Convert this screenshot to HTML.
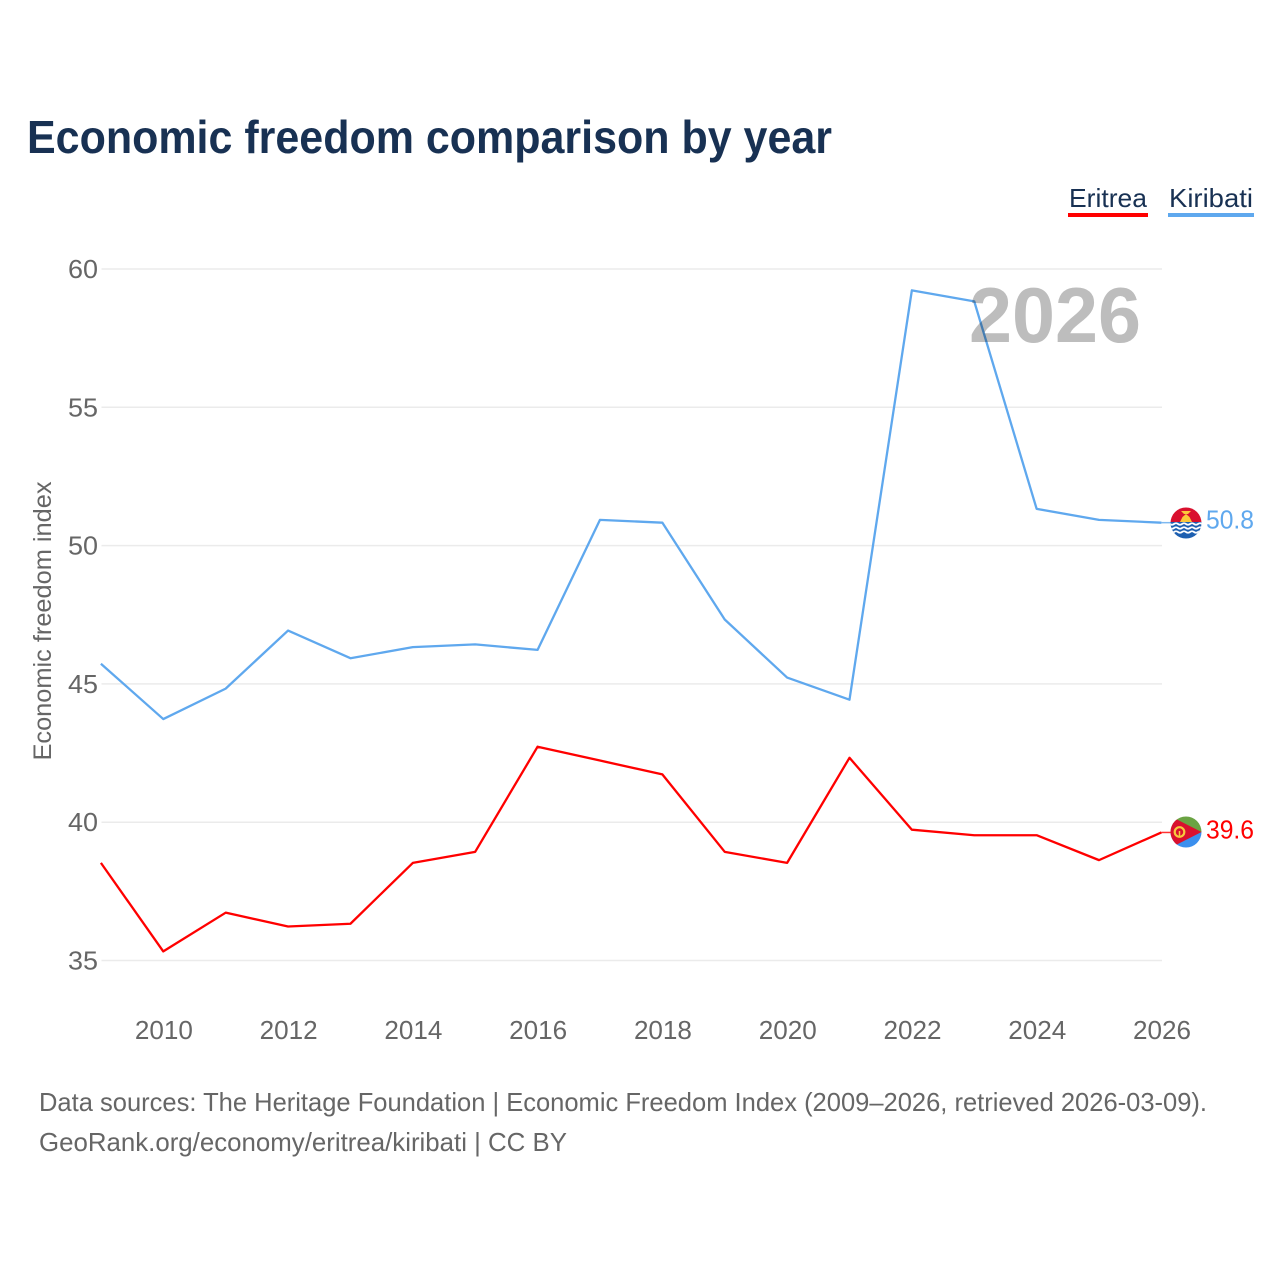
<!DOCTYPE html>
<html lang="en">
<head>
<meta charset="utf-8">
<title>Economic freedom comparison by year</title>
<style>
html,body{margin:0;padding:0;background:#fff;}
svg{display:block;font-family:"Liberation Sans",sans-serif;}
</style>
</head>
<body>
<svg id="chart" width="1280" height="1280" viewBox="0 0 1280 1280" xmlns="http://www.w3.org/2000/svg">
  <rect width="1280" height="1280" fill="#fff"/>
  <text x="27" y="153" font-size="46" font-weight="700" fill="#183153" textLength="805" lengthAdjust="spacingAndGlyphs">Economic freedom comparison by year</text>
  <g>
    <g>
      <text x="1069" y="207" font-size="26" fill="#183153" textLength="78" lengthAdjust="spacingAndGlyphs">Eritrea</text>
      <rect x="1068" y="213" width="80" height="4" fill="#ff0000"/>
    </g>
    <g>
      <text x="1169" y="207" font-size="26" fill="#183153" textLength="84" lengthAdjust="spacingAndGlyphs">Kiribati</text>
      <rect x="1168" y="213" width="86" height="4" fill="#5fa8ee"/>
    </g>
  </g>
  <g id="grid"></g>
  <g id="yticks"></g>
  <g id="xticks"></g>
  <text transform="translate(51,621) rotate(-90)" text-anchor="middle" font-size="25" fill="#666" textLength="279" lengthAdjust="spacingAndGlyphs">Economic freedom index</text>
  <g id="series"></g>
  <text x="969" y="342" font-size="78" font-weight="700" fill="#bdbdbd" textLength="172" lengthAdjust="spacingAndGlyphs" style="mix-blend-mode:multiply">2026</text>
  <defs>
    <clipPath id="clip-kiribati"><circle cx="1186" cy="523" r="15.5"/></clipPath>
    <clipPath id="clip-eritrea"><circle cx="1186" cy="832" r="15.5"/></clipPath>
  </defs>
  <g id="flag-kiribati" clip-path="url(#clip-kiribati)">
    <rect x="1170" y="507" width="32" height="16" fill="#d9102e"/>
    <path d="M1180 522l2.500-5 3.500-3 3.500 3 2.500 5z" fill="#fcc83a"/>
    <path d="M1181 511h10l-3 3h-4z" fill="#fcc83a"/>
    <rect x="1170" y="522" width="32" height="17" fill="#1d5fb0"/>
    <path d="M1170 524q2 1.500 4 0t4 0 4 0 4 0 4 0 4 0 4 0 4 0" fill="none" stroke="#fff" stroke-width="1.800"/>
    <path d="M1170 528q2 1.500 4 0t4 0 4 0 4 0 4 0 4 0 4 0 4 0" fill="none" stroke="#fff" stroke-width="1.800"/>
    <path d="M1170 532q2 1.500 4 0t4 0 4 0 4 0 4 0 4 0 4 0 4 0" fill="none" stroke="#fff" stroke-width="1.800"/>
  </g>
  <g id="flag-eritrea" clip-path="url(#clip-eritrea)">
    <rect x="1170" y="816" width="32" height="16" fill="#6aa343"/>
    <rect x="1170" y="832" width="32" height="16" fill="#3a8fee"/>
    <path d="M1170 816L1201.500 832L1170 848z" fill="#d9102e"/>
    <circle cx="1179.500" cy="832" r="4.800" fill="none" stroke="#f7c93e" stroke-width="2.200"/>
    <path d="M1179.500 836v-5" stroke="#f7c93e" stroke-width="1.500"/>
  </g>
  <text x="39" y="1111" font-size="26" fill="#666" textLength="1168" lengthAdjust="spacingAndGlyphs">Data sources: The Heritage Foundation | Economic Freedom Index (2009–2026, retrieved 2026-03-09).</text>
  <text x="39" y="1151" font-size="26" fill="#666" textLength="528" lengthAdjust="spacingAndGlyphs">GeoRank.org/economy/eritrea/kiribati | CC BY</text>
</svg>
<script>
const years = [2009,2010,2011,2012,2013,2014,2015,2016,2017,2018,2019,2020,2021,2022,2023,2024,2025,2026];
const eritreaValues = [38.5,35.3,36.7,36.2,36.3,38.5,38.9,42.7,42.2,41.7,38.9,38.5,42.3,39.7,39.5,39.5,38.6,39.6];
const kiribatiValues = [45.7,43.7,44.8,46.9,45.9,46.3,46.4,46.2,50.9,50.8,47.3,45.2,44.4,59.2,58.8,51.3,50.9,50.8];
const yTickValues = [35,40,45,50,55,60];
const xTickValues = [2010,2012,2014,2016,2018,2020,2022,2024,2026];

const SVGNS = 'http://www.w3.org/2000/svg';
function xScale(year){ return 101.5 + (year - 2009) * (1162 - 101.5) / 17; }
function yScale(value){ return 960.5 - (value - 35) * (960.5 - 269) / 25; }
function make(parent, tag, attrs, text){
  const el = document.createElementNS(SVGNS, tag);
  for (const k in attrs) el.setAttribute(k, attrs[k]);
  if (text !== undefined) el.textContent = text;
  parent.appendChild(el);
  return el;
}

const grid = document.getElementById('grid');
const yticks = document.getElementById('yticks');
yTickValues.forEach(function(v){
  const line = make(grid, 'line', {x1:101.5, x2:1162, y1:yScale(v), y2:yScale(v), stroke:'#ebebeb', 'stroke-width':1.5});
  
  
  const label = make(yticks, 'text', {x:98, y:yScale(v)+9, 'text-anchor':'end', 'font-size':26, fill:'#666', textLength:30, lengthAdjust:'spacingAndGlyphs'}, String(v));
  
  
});

const xticks = document.getElementById('xticks');
xTickValues.forEach(function(y){
  const label = make(xticks, 'text', {x:xScale(y), y:1039, 'text-anchor':'middle', 'font-size':26, fill:'#666', textLength:58, lengthAdjust:'spacingAndGlyphs'}, String(y));
  
  
});

const series = document.getElementById('series');
function drawSeries(name, values, color){
  const pts = values.map(function(v, i){ return (xScale(years[i]) - 0.6).toFixed(2) + ',' + (yScale(v) - 0.8).toFixed(2); }).join(' ');
  const line = make(series, 'polyline', {points:pts, fill:'none', stroke:color, 'stroke-width':2.3, 'stroke-linejoin':'round'});
  
  
  const last = values[values.length - 1];
  const lastX = xScale(years[years.length - 1]);
  const lastY = yScale(last) - 0.8;
  const conn = make(series, 'line', {x1:lastX - 0.6, x2:lastX + 10, y1:lastY, y2:lastY, stroke:color, 'stroke-width':1.5, opacity:0.8});
  
  
  const label = make(series, 'text', {x:1206, y:lastY + 6, 'font-size':26, fill:color, textLength:48, lengthAdjust:'spacingAndGlyphs'}, last.toFixed(1));
  
  
}
drawSeries('kiribati', kiribatiValues, '#5fa8ee');
drawSeries('eritrea', eritreaValues, '#ff0000');
</script>
</body>
</html>
